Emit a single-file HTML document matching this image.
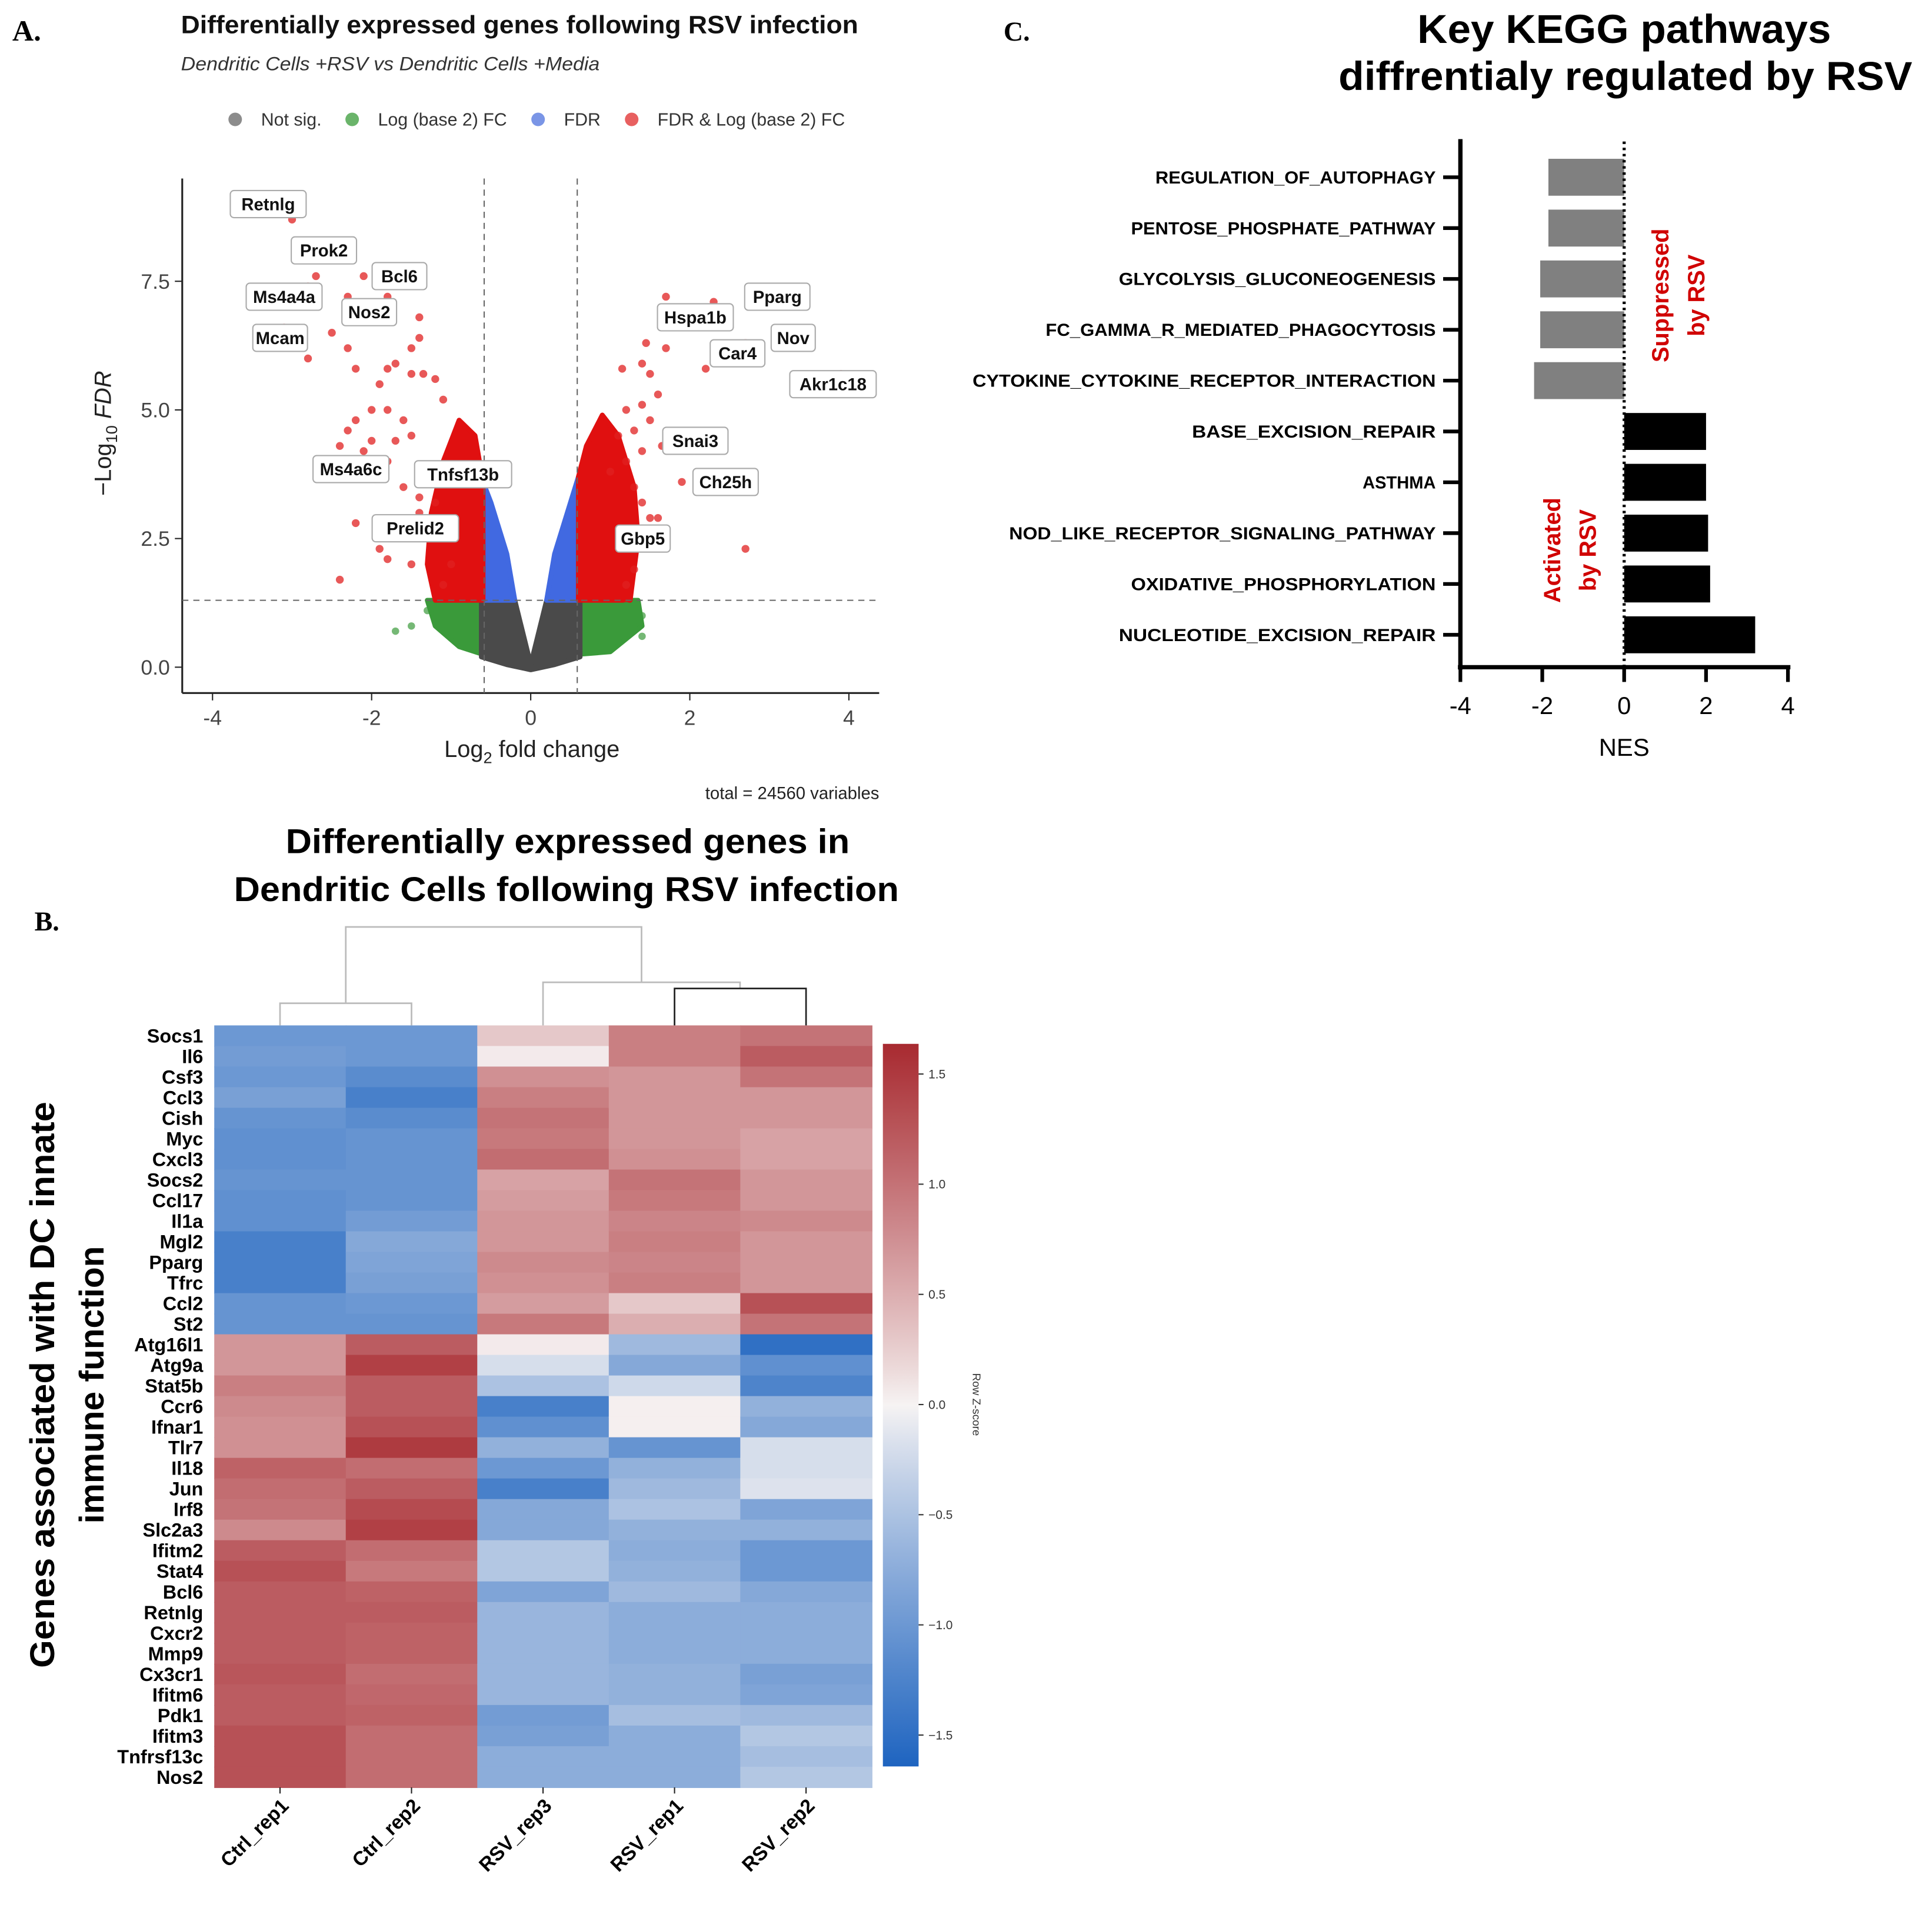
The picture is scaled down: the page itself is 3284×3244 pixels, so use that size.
<!DOCTYPE html>
<html><head><meta charset="utf-8"><style>
html,body{margin:0;padding:0;background:#fff}
svg{display:block}
</style></head><body>
<svg id="fig" width="3284" height="3244" viewBox="0 0 1569 1550" preserveAspectRatio="none" xmlns="http://www.w3.org/2000/svg" font-family="Liberation Sans, Arial, sans-serif">
<rect width="1569" height="1550" fill="#fff"/>
<g id="panelA"></g>
<g id="panelB"></g>
<g id="panelC"></g>
</svg>
<script>
// ---------- Panel A data ----------
const redX=[-3.0,-2.7,-2.8,-2.1,-1.8,-2.3,-3.1,-2.5,-2.8,-2.3,-1.4,-1.4,-1.5,-1.7,-1.5,-1.8,-1.35,-1.2,-2.2,-1.9,-2.0,-1.8,-2.2,-1.6,-1.1,-2.3,-2.0,-1.7,-2.4,-1.5,-2.1,-1.8,-1.3,-1.6,-1.4,-1.2,-1.4,-2.2,-1.8,-1.3,-1.9,-1.8,-1.5,-2.4,-1.1,-1.0,1.7,2.3,2.7,3.9,1.45,1.7,2.2,1.4,1.15,1.5,1.6,1.4,1.2,1.5,1.3,1.1,1.4,1.65,1.2,1.0,1.3,1.9,2.5,1.6,1.5,1.35,2.7,1.3,1.2,1.25,1.4];
const redY=[8.7,7.6,7.4,7.6,7.2,7.2,6.6,6.5,6.0,6.2,6.8,6.4,6.2,5.9,5.7,5.8,5.7,5.6,5.8,5.5,5.0,5.0,4.8,4.8,5.2,4.6,4.4,4.4,4.3,4.5,4.2,4.0,3.8,3.5,3.3,3.2,3.0,2.8,2.6,2.5,2.3,2.1,2.0,1.7,1.6,2.0,7.2,7.1,6.3,5.7,6.3,6.2,5.8,5.9,5.8,5.7,5.3,5.1,5.0,4.8,4.6,4.5,4.2,4.3,4.0,3.8,3.5,3.6,3.7,2.9,2.9,2.7,2.3,1.9,1.6,2.3,3.2];
const greenX=[-1.7,-1.5,-1.3,1.4,1.4,1.3,1.2];
const greenY=[0.7,0.8,1.1,1.0,0.6,0.9,1.2];
const grayEnvX=[-0.62,-0.2,0,0.2,0.62,0.62,0.3,0,-0.3,-0.62];
const grayEnvY=[1.3,1.3,0.05,1.3,1.3,0.2,0.05,-0.05,0.05,0.2];
const blueLX=[-0.6,-0.5,-0.3,-0.2,-0.6], blueLY=[3.6,3.2,2.2,1.3,1.3];
const blueRX=[0.6,0.5,0.3,0.2,0.6], blueRY=[3.7,3.2,2.2,1.3,1.3];
const redLX=[-0.6,-1.2,-1.3,-1.25,-1.1,-0.9,-0.7,-0.6], redLY=[1.3,1.3,2.0,3.0,4.0,4.8,4.5,3.6];
const redRX=[0.6,0.6,0.7,0.9,1.1,1.3,1.35,1.25], redRY=[1.3,3.7,4.3,4.9,4.5,3.5,2.5,1.3];
const grnLX=[-0.6,-0.6,-1.3,-1.2,-0.9], grnLY=[0.25,1.3,1.3,0.8,0.4];
const grnRX=[0.6,0.6,1.35,1.4,1.0], grnRY=[0.25,1.3,1.3,0.8,0.3];
const xTicks=[-4,-2,0,2,4];
const yTicks=[0,2.5,5,7.5];
const yTickLabels=["0.0","2.5","5.0","7.5"];
const geneLabels=["Retnlg","Prok2","Bcl6","Ms4a4a","Nos2","Mcam","Hspa1b","Pparg","Nov","Car4","Akr1c18","Snai3","Ch25h","Ms4a6c","Tnfsf13b","Prelid2","Gbp5"];
const geneLX=[-3.3,-2.6,-1.65,-3.1,-2.03,-3.15,2.07,3.1,3.3,2.6,3.8,2.07,2.45,-2.26,-0.85,-1.45,1.41];
const geneLY=[9.0,8.1,7.6,7.2,6.9,6.4,6.8,7.2,6.4,6.1,5.5,4.4,3.6,3.85,3.75,2.7,2.5];

// ---------- Panel B data ----------
const genes=["Socs1","Il6","Csf3","Ccl3","Cish","Myc","Cxcl3","Socs2","Ccl17","Il1a","Mgl2","Pparg","Tfrc","Ccl2","St2","Atg16l1","Atg9a","Stat5b","Ccr6","Ifnar1","Tlr7","Il18","Jun","Irf8","Slc2a3","Ifitm2","Stat4","Bcl6","Retnlg","Cxcr2","Mmp9","Cx3cr1","Ifitm6","Pdk1","Ifitm3","Tnfrsf13c","Nos2"];
const samples=["Ctrl_rep1","Ctrl_rep2","RSV_rep3","RSV_rep1","RSV_rep2"];
const ctrlRep1=[-1.0,-0.95,-1.0,-0.9,-1.05,-1.1,-1.1,-1.05,-1.1,-1.1,-1.3,-1.3,-1.3,-1.05,-1.05,0.7,0.7,0.9,0.8,0.75,0.75,1.15,1.05,1.0,0.8,1.2,1.3,1.2,1.2,1.2,1.2,1.25,1.2,1.2,1.3,1.3,1.3];
const ctrlRep2=[-1.0,-1.0,-1.15,-1.3,-1.15,-1.05,-1.05,-1.05,-1.05,-0.95,-0.8,-0.85,-0.9,-1.0,-1.05,1.2,1.45,1.2,1.2,1.3,1.5,1.05,1.2,1.35,1.45,1.05,0.95,1.15,1.2,1.15,1.15,1.05,1.1,1.15,1.05,1.05,1.05];
const rsvRep3=[0.3,0.05,0.75,0.9,1.0,0.95,1.05,0.6,0.65,0.7,0.7,0.8,0.75,0.65,0.95,0.05,-0.2,-0.5,-1.3,-1.1,-0.7,-1.0,-1.3,-0.8,-0.8,-0.45,-0.45,-0.85,-0.65,-0.65,-0.65,-0.65,-0.65,-0.95,-0.9,-0.75,-0.75];
const rsvRep1=[0.9,0.9,0.7,0.7,0.7,0.7,0.75,1.0,0.95,0.85,0.9,0.85,0.9,0.3,0.5,-0.6,-0.8,-0.25,0.02,0.02,-1.05,-0.7,-0.6,-0.5,-0.7,-0.75,-0.7,-0.6,-0.75,-0.75,-0.75,-0.7,-0.7,-0.55,-0.75,-0.75,-0.75];
const rsvRep2=[1.0,1.2,1.0,0.7,0.7,0.6,0.6,0.7,0.7,0.8,0.7,0.7,0.7,1.3,1.0,-1.5,-1.1,-1.25,-0.7,-0.8,-0.2,-0.2,-0.15,-0.85,-0.7,-1.0,-1.0,-0.8,-0.75,-0.75,-0.75,-0.9,-0.85,-0.6,-0.45,-0.55,-0.45];
const cbTicks=[1.5,1.0,0.5,0,-0.5,-1.0,-1.5];
const cbTickLabels=["1.5","1.0","0.5","0.0","\u22120.5","\u22121.0","\u22121.5"];

// ---------- Panel C data ----------
const pathways=["REGULATION_OF_AUTOPHAGY","PENTOSE_PHOSPHATE_PATHWAY","GLYCOLYSIS_GLUCONEOGENESIS","FC_GAMMA_R_MEDIATED_PHAGOCYTOSIS","CYTOKINE_CYTOKINE_RECEPTOR_INTERACTION","BASE_EXCISION_REPAIR","ASTHMA","NOD_LIKE_RECEPTOR_SIGNALING_PATHWAY","OXIDATIVE_PHOSPHORYLATION","NUCLEOTIDE_EXCISION_REPAIR"];
const nes=[-1.85,-1.85,-2.05,-2.05,-2.2,2.0,2.0,2.05,2.1,3.2];
const nesTicks=[-4,-2,0,2,4];

const NS="http://www.w3.org/2000/svg";
function mk(parent,tag,attrs,txt){const e=document.createElementNS(NS,tag);for(const k in attrs)e.setAttribute(k,attrs[k]);if(txt!==undefined)e.textContent=txt;parent.appendChild(e);return e;}
const SERIF='Liberation Serif, serif';

// ===== Panel A =====
const A=document.getElementById('panelA');
const ax=v=>431+v*64.6, ay=v=>542-v*41.8;
let t,e;
t=mk(A,'text',{x:10,y:33,'font-size':24,'font-weight':'bold','font-family':SERIF},'A.');

t=mk(A,'text',{x:147,y:27,'font-size':20.5,'font-weight':'bold',fill:'#111',textLength:550,lengthAdjust:'spacingAndGlyphs'},'Differentially expressed genes following RSV infection');

t=mk(A,'text',{x:147,y:57,'font-size':15.5,'font-style':'italic',fill:'#333',textLength:340,lengthAdjust:'spacingAndGlyphs'},'Dendritic Cells +RSV vs Dendritic Cells +Media');

const legC=['#8c8c8c','#6ab46a','#7a95e6','#e86060'],legT=['Not sig.','Log (base 2) FC','FDR','FDR & Log (base 2) FC'],legX=[191,286,437,513];
for(let i=0;i<4;i++){const g=mk(A,'g',{});

mk(g,'circle',{cx:legX[i],cy:97,r:5.5,fill:legC[i]});mk(g,'text',{x:legX[i]+21,y:102,'font-size':14.5,fill:'#333'},legT[i]);}
e=mk(A,'line',{x1:148,y1:145,x2:148,y2:563,stroke:'#222','stroke-width':1.5});

e=mk(A,'line',{x1:148,y1:563,x2:714,y2:563,stroke:'#222','stroke-width':1.5});

xTicks.forEach(v=>{mk(A,'line',{x1:ax(v),y1:563,x2:ax(v),y2:569,stroke:'#222'});
e=mk(A,'text',{x:ax(v),y:589,'font-size':17,'text-anchor':'middle',fill:'#444'},String(v));
});
yTicks.forEach((v,i)=>{mk(A,'line',{x1:142,y1:ay(v),x2:148,y2:ay(v),stroke:'#222'});
e=mk(A,'text',{x:138,y:ay(v)+6,'font-size':17,'text-anchor':'end',fill:'#444'},yTickLabels[i]);
});
e=mk(A,'text',{x:432,y:615,'font-size':19,'text-anchor':'middle',fill:'#222'});
e.innerHTML='Log<tspan font-size="13" dy="5">2</tspan><tspan dy="-5"> fold change</tspan>';

e=mk(A,'text',{transform:'translate(90,352) rotate(-90)','font-size':19,'text-anchor':'middle',fill:'#222'});
e.innerHTML='\u2212Log<tspan font-size="13" dy="5">10</tspan><tspan dy="-5" font-style="italic"> FDR</tspan>';

e=mk(A,'text',{x:714,y:649,'font-size':14,'text-anchor':'end',fill:'#222'},'total = 24560 variables');

function poly(xs,ys,fill,name){const p=xs.map((x,i)=>ax(x)+','+ay(ys[i])).join(' ');
const el=mk(A,'polygon',{points:p,fill:fill,stroke:fill,'stroke-width':4,'stroke-linejoin':'round'});
}
poly(grnLX,grnLY,'#3a9a3a','green-cloud-left');poly(grnRX,grnRY,'#3a9a3a','green-cloud-right');
poly(grayEnvX,grayEnvY,'#4a4a4a','not-sig-cloud');
poly(blueLX,blueLY,'#4169e1','fdr-cloud-left');poly(blueRX,blueRY,'#4169e1','fdr-cloud-right');
poly(redLX,redLY,'#e01010','sig-cloud-left');poly(redRX,redRY,'#e01010','sig-cloud-right');
greenX.forEach((x,i)=>{e=mk(A,'circle',{cx:ax(x),cy:ay(greenY[i]),r:3,fill:'#3a9a3a','fill-opacity':0.7});
});
redX.forEach((x,i)=>{e=mk(A,'circle',{cx:ax(x),cy:ay(redY[i]),r:3.2,fill:'#e02020','fill-opacity':0.75});
});
[-0.585,0.585].forEach(v=>{e=mk(A,'line',{x1:ax(v),y1:145,x2:ax(v),y2:563,stroke:'#666','stroke-dasharray':'5,4'});
});
e=mk(A,'line',{x1:148,y1:ay(1.3),x2:714,y2:ay(1.3),stroke:'#666','stroke-dasharray':'5,4'});

geneLabels.forEach((g,i)=>{const cx=ax(geneLX[i]),cy=ay(geneLY[i]);const w=g.length*8.6+10;
const gg=mk(A,'g',{});
mk(gg,'rect',{x:cx-w/2,y:cy-11,width:w,height:22,rx:3,fill:'#fff',stroke:'#aaa','stroke-width':1});
mk(gg,'text',{x:cx,y:cy+5,'font-size':14,'font-weight':'bold','text-anchor':'middle',fill:'#111'},g);});

// ===== Panel B =====
const B=document.getElementById('panelB');
e=mk(B,'text',{x:28,y:756,'font-size':22,'font-weight':'bold','font-family':SERIF},'B.');

e=mk(B,'text',{x:461,y:693,'font-size':28,'font-weight':'bold','text-anchor':'middle',textLength:458,lengthAdjust:'spacingAndGlyphs'},'Differentially expressed genes in');

e=mk(B,'text',{x:460,y:732,'font-size':28,'font-weight':'bold','text-anchor':'middle',textLength:540,lengthAdjust:'spacingAndGlyphs'},'Dendritic Cells following RSV infection');

e=mk(B,'text',{transform:'translate(44,1125) rotate(-90)','font-size':28,'font-weight':'bold','text-anchor':'middle',textLength:460,lengthAdjust:'spacingAndGlyphs'},'Genes associated with DC innate');

e=mk(B,'text',{transform:'translate(84,1125) rotate(-90)','font-size':28,'font-weight':'bold','text-anchor':'middle'},'immune function');

const hx0=174,hy0=833,cw=106.8,ch=(1452-833)/37;
const cols=[ctrlRep1,ctrlRep2,rsvRep3,rsvRep1,rsvRep2];
function cmap(v){const m=1.65;let s=Math.max(-1,Math.min(1,v/m));
const W=[246,243,243],R=[168,42,48],Bl=[30,100,192];let c=s>=0?R:Bl;s=Math.abs(s);
s=Math.pow(s,0.9);
return 'rgb('+W.map((w,i)=>Math.round(w+(c[i]-w)*s)).join(',')+')';}
cols.forEach((col,j)=>col.forEach((v,i)=>{e=mk(B,'rect',{x:hx0+j*cw,y:hy0+i*ch,width:cw+0.5,height:ch+0.5,fill:cmap(v)});
}));
genes.forEach((g,i)=>{e=mk(B,'text',{x:165,y:hy0+i*ch+ch/2+5.5,'font-size':15.5,'font-weight':'bold','text-anchor':'end'},g);
});
samples.forEach((s,j)=>{const cx=hx0+j*cw+cw/2;mk(B,'line',{x1:cx,y1:1452,x2:cx,y2:1457,stroke:'#222'});
e=mk(B,'text',{transform:'translate('+(cx+8)+',1468) rotate(-45)','font-size':16,'font-weight':'bold','text-anchor':'end'},s);
});
const dg=mk(B,'g',{fill:'none','stroke-width':1.3});
const c0=hx0+cw/2;const cc=j=>c0+j*cw;
mk(dg,'path',{d:`M${cc(0)},833V815H${cc(1)}V833`,stroke:'#bbb'});
mk(dg,'path',{d:`M${(cc(0)+cc(1))/2},815V753H521V798`,stroke:'#bbb'});
mk(dg,'path',{d:`M${cc(2)},833V798H601V803`,stroke:'#bbb'});
mk(dg,'path',{d:`M${cc(3)},833V803H${cc(4)}V833`,stroke:'#222'});
const cbTop=848,cbBot=1435,cbZero=1141,cbPer=179;
const defs=mk(B,'defs',{});const lg=mk(defs,'linearGradient',{id:'cbg',x1:0,y1:0,x2:0,y2:1});
for(let k=0;k<=20;k++){const v=1.65-3.3*k/20;mk(lg,'stop',{offset:k/20,'stop-color':cmap(v)});}
e=mk(B,'rect',{x:717,y:cbTop,width:29,height:cbBot-cbTop,fill:'url(#cbg)'});

cbTicks.forEach((v,i)=>{const y=cbZero-v*cbPer;mk(B,'line',{x1:746,y1:y,x2:750,y2:y,stroke:'#333'});
e=mk(B,'text',{x:754,y:y+3.5,'font-size':10,fill:'#333'},cbTickLabels[i]);
});
e=mk(B,'text',{transform:'translate(790,1141) rotate(90)','font-size':9,'text-anchor':'middle',fill:'#333'},'Row Z-score');


// ===== Panel C =====
const C=document.getElementById('panelC');
const cx=v=>1319+v*33.25;
e=mk(C,'text',{x:815,y:33,'font-size':22,'font-weight':'bold','font-family':SERIF},'C.');

e=mk(C,'text',{x:1319,y:35,'font-size':33,'font-weight':'bold','text-anchor':'middle',textLength:336,lengthAdjust:'spacingAndGlyphs'},'Key KEGG pathways');

e=mk(C,'text',{x:1320,y:73,'font-size':33,'font-weight':'bold','text-anchor':'middle',textLength:466,lengthAdjust:'spacingAndGlyphs'},'diffrentialy regulated by RSV');

const by0=144,bstep=41.3,bh=30;
pathways.forEach((p,i)=>{const y=by0+i*bstep;const v=nes[i];
e=mk(C,'rect',{x:Math.min(cx(0),cx(v)),y:y-bh/2,width:Math.abs(cx(v)-cx(0)),height:bh,fill:v<0?'#808080':'#000'});

mk(C,'line',{x1:1172,y1:y,x2:1186,y2:y,stroke:'#000','stroke-width':3});
e=mk(C,'text',{x:1166,y:y+5,'font-size':14,'font-weight':'bold','text-anchor':'end',textLength:p.length*9.9,lengthAdjust:'spacingAndGlyphs'},p);
});
e=mk(C,'line',{x1:1186,y1:113,x2:1186,y2:544,stroke:'#000','stroke-width':3.5});

e=mk(C,'line',{x1:1184,y1:542,x2:1454,y2:542,stroke:'#000','stroke-width':3.5});

e=mk(C,'line',{x1:cx(0),y1:115,x2:cx(0),y2:542,stroke:'#000','stroke-width':2.5,'stroke-dasharray':'2,3'});

nesTicks.forEach(v=>{mk(C,'line',{x1:cx(v),y1:542,x2:cx(v),y2:554,stroke:'#000','stroke-width':3});
e=mk(C,'text',{x:cx(v),y:580,'font-size':20,'text-anchor':'middle'},v<0?'-'+Math.abs(v):String(v));
});
e=mk(C,'text',{x:1319,y:614,'font-size':20,'text-anchor':'middle'},'NES');

e=mk(C,'text',{transform:'translate(1355,240) rotate(-90)','font-size':19,'font-weight':'bold','text-anchor':'middle',fill:'#d00000'},'Suppressed');

e=mk(C,'text',{transform:'translate(1384,240) rotate(-90)','font-size':19,'font-weight':'bold','text-anchor':'middle',fill:'#d00000'},'by RSV');

e=mk(C,'text',{transform:'translate(1267,447) rotate(-90)','font-size':19,'font-weight':'bold','text-anchor':'middle',fill:'#d00000'},'Activated');

e=mk(C,'text',{transform:'translate(1296,447) rotate(-90)','font-size':19,'font-weight':'bold','text-anchor':'middle',fill:'#d00000'},'by RSV');

</script>
</body></html>
